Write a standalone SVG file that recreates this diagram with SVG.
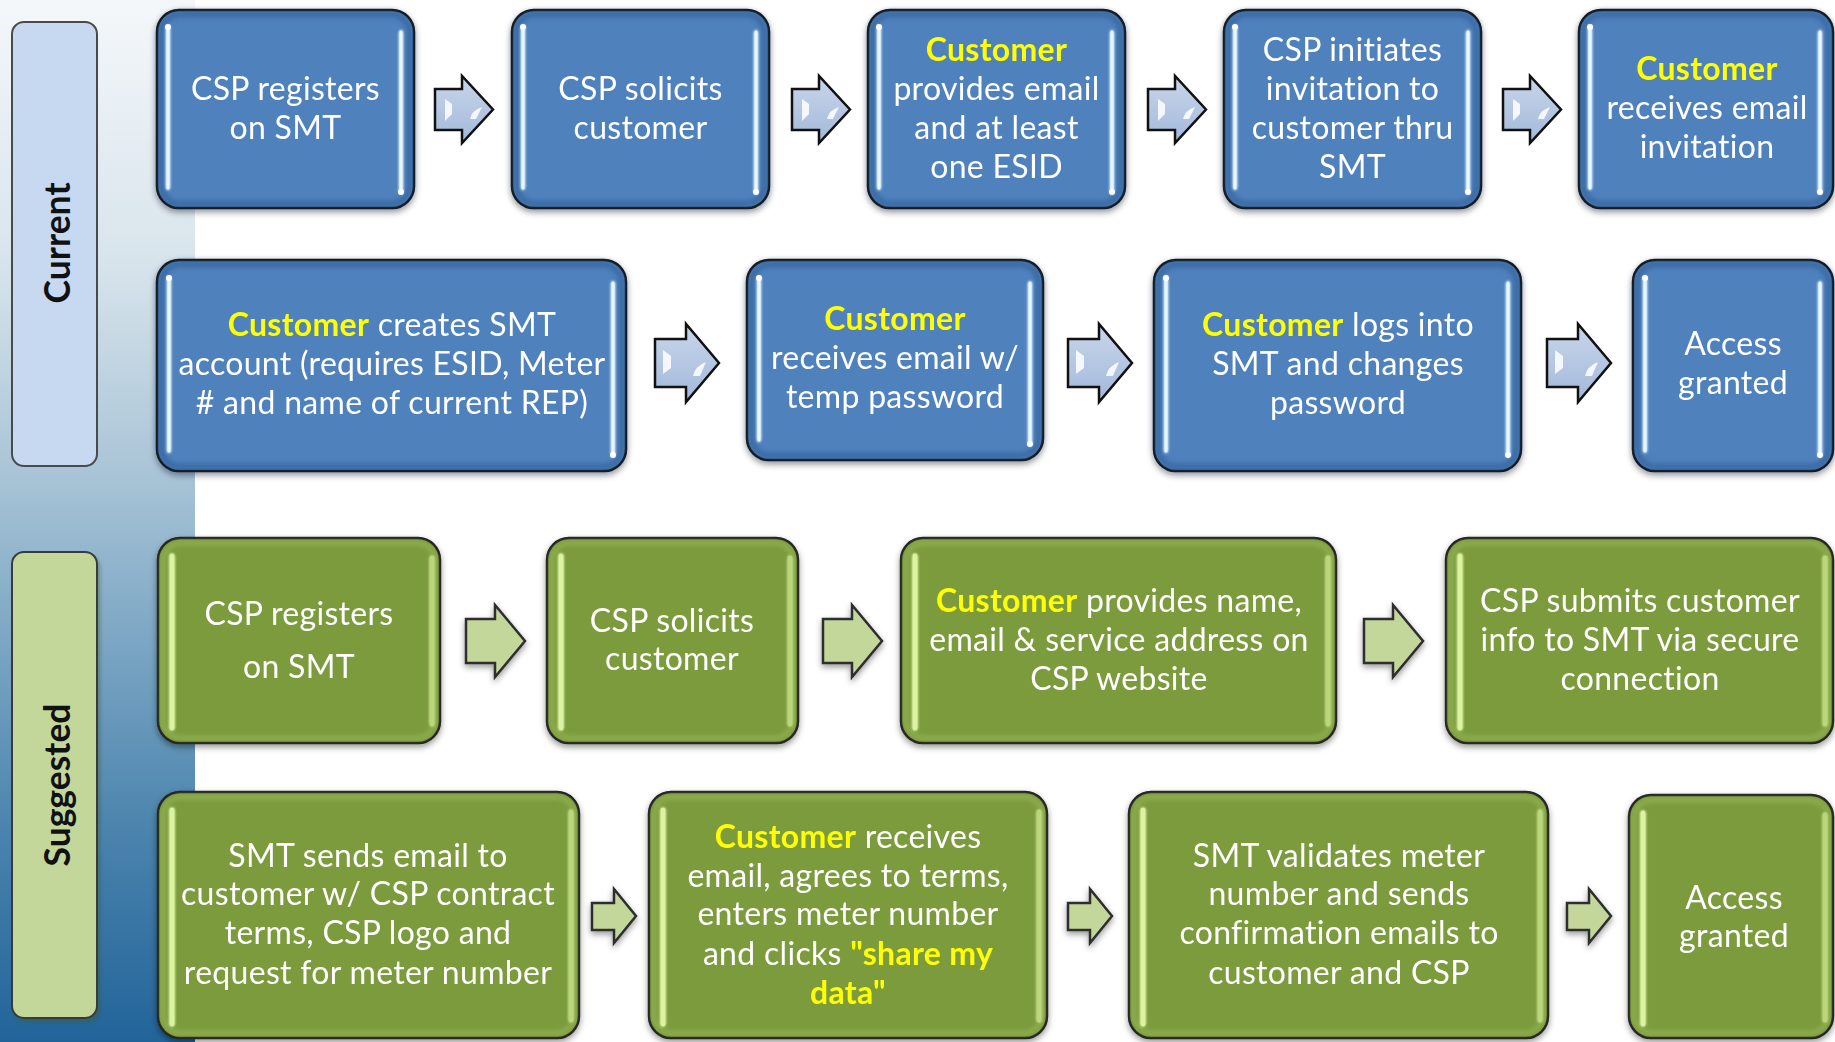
<svg xmlns="http://www.w3.org/2000/svg" xmlns:xlink="http://www.w3.org/1999/xlink" width="1835" height="1042" viewBox="0 0 1835 1042">
  <defs>
    <linearGradient id="panelGrad" x1="0" y1="0" x2="0" y2="1">
      <stop offset="0" stop-color="#f4f7fa"/>
      <stop offset="0.25" stop-color="#d8e4ec"/>
      <stop offset="0.45" stop-color="#aac5d7"/>
      <stop offset="0.6" stop-color="#80a9c6"/>
      <stop offset="0.8" stop-color="#4a83ad"/>
      <stop offset="1" stop-color="#22649a"/>
    </linearGradient>
    <linearGradient id="blueArrowFill" x1="0" y1="0" x2="0" y2="1">
      <stop offset="0" stop-color="#c9d6eb"/>
      <stop offset="1" stop-color="#a2b8da"/>
    </linearGradient>
    <filter id="shadow" x="-10%" y="-10%" width="120%" height="125%">
      <feDropShadow dx="0" dy="3" stdDeviation="3" flood-color="#000" flood-opacity="0.4"/>
    </filter>
    <filter id="soft" x="-10%" y="-10%" width="120%" height="120%">
      <feGaussianBlur stdDeviation="2"/>
    </filter>
    <!-- user-space region so zero-width vertical strokes still get a glow -->
    <filter id="glow" filterUnits="userSpaceOnUse" x="0" y="0" width="1835" height="1042">
      <feGaussianBlur in="SourceGraphic" stdDeviation="1.8" result="b"/>
      <feMerge><feMergeNode in="b"/><feMergeNode in="b"/><feMergeNode in="SourceGraphic"/></feMerge>
    </filter>
    <!-- arrow outlines, local coordinates -->
    <path id="arrowBlueS" d="M0,13 H27 V0 L58,33.5 L27,67 V54 H0 Z"/>
    <path id="arrowBlueL" d="M0,15 H31 V0 L64,39 L31,78 V63 H0 Z"/>
    <path id="arrowGreenL" d="M0,14 H29 V0 L59,36 L29,72 V58 H0 Z"/>
    <path id="arrowGreenS" d="M0,14 H22 V0 L44,27 L22,54 V41 H0 Z"/>
  </defs>
  <style>
    .box-blue { fill: #4f81bd; stroke: #111; stroke-width: 2.5; }
    .bevel-blue { fill: none; stroke: #2d5b92; stroke-width: 7; opacity: 0.55; filter: url(#soft); }
    .hl-blue { stroke: #e6f7ff; stroke-width: 3; stroke-linecap: round; filter: url(#glow); }
    .dot-blue { fill: #ffffff; }
    .box-green { fill: #7b9b3e; stroke: #222; stroke-width: 2.5; }
    .bevel-green { fill: none; stroke: #9cbc5a; stroke-width: 5; opacity: 0.55; filter: url(#soft); }
    .hl-green { stroke: #dcf4a2; stroke-width: 4.5; stroke-linecap: round; filter: url(#glow); }
    .hr-green { stroke: #c6df86; stroke-width: 4.5; stroke-linecap: round; opacity: 0.85; filter: url(#glow); }
    .t { font-family: Lato, "Liberation Sans", sans-serif; font-size: 32px; letter-spacing: 0.3px; fill: #ffffff; text-anchor: middle; }
    .y { fill: #ffff00; font-weight: 700; }
    .lab { font-family: Lato, "Liberation Sans", sans-serif; font-size: 35.5px; font-weight: 700; fill: #111; text-anchor: middle; }
    .lane-cur { fill: #c6d9f1; stroke: #4a4a4a; stroke-width: 2; }
    .lane-sug { fill: #c4d79b; stroke: #3a3a3a; stroke-width: 2; }
    .arr-blue { fill: url(#blueArrowFill); stroke: #111; stroke-width: 2.5; stroke-linejoin: miter; }
    .arr-blue-hi { fill: #ffffff; opacity: 0.85; }
    .arr-green { fill: #c4d79b; stroke: #2e2e2e; stroke-width: 2.5; stroke-linejoin: miter; }
  </style>

  <!-- left band -->
  <rect x="0" y="0" width="195" height="1042" fill="url(#panelGrad)"/>

  <!-- lane labels -->
  <g id="lane-current">
    <rect class="lane-cur" x="12" y="22" width="85" height="444" rx="12"/>
    <text class="lab" transform="translate(58,243) rotate(-90)" y="12">Current</text>
  </g>
  <g id="lane-suggested">
    <rect x="15" y="556" width="85" height="466" rx="12" fill="#3c5a2a" opacity="0.45" filter="url(#soft)"/>
    <rect class="lane-sug" x="12" y="552" width="85" height="466" rx="12"/>
    <text class="lab" transform="translate(58,785) rotate(-90)" y="12">Suggested</text>
  </g>

  <!-- current process: row 1 -->
  <g id="cur-1" filter="url(#shadow)">
    <rect class="box-blue" x="157" y="10" width="257" height="198" rx="22"/>
    <rect class="bevel-blue" x="161" y="14" width="249" height="190" rx="19"/>
    <line class="hl-blue" x1="168" y1="27" x2="168" y2="188"/>
    <line class="hl-blue" x1="401" y1="32" x2="401" y2="192"/>
    <circle class="dot-blue" cx="168" cy="27" r="3"/><circle class="dot-blue" cx="401" cy="192" r="3"/>
    <text class="t"><tspan x="285.5" y="100">CSP registers</tspan><tspan x="285.5" y="139">on SMT</tspan></text>
  </g>
  <g id="cur-2" filter="url(#shadow)">
    <rect class="box-blue" x="512" y="10" width="257" height="198" rx="22"/>
    <rect class="bevel-blue" x="516" y="14" width="249" height="190" rx="19"/>
    <line class="hl-blue" x1="523" y1="27" x2="523" y2="188"/>
    <line class="hl-blue" x1="756" y1="32" x2="756" y2="192"/>
    <circle class="dot-blue" cx="523" cy="27" r="3"/><circle class="dot-blue" cx="756" cy="192" r="3"/>
    <text class="t"><tspan x="640.5" y="100">CSP solicits</tspan><tspan x="640.5" y="139">customer</tspan></text>
  </g>
  <g id="cur-3" filter="url(#shadow)">
    <rect class="box-blue" x="868" y="10" width="257" height="198" rx="22"/>
    <rect class="bevel-blue" x="872" y="14" width="249" height="190" rx="19"/>
    <line class="hl-blue" x1="879" y1="27" x2="879" y2="188"/>
    <line class="hl-blue" x1="1112" y1="32" x2="1112" y2="192"/>
    <circle class="dot-blue" cx="879" cy="27" r="3"/><circle class="dot-blue" cx="1112" cy="192" r="3"/>
    <text class="t"><tspan class="y" x="996.5" y="61">Customer</tspan><tspan x="996.5" y="100">provides email</tspan><tspan x="996.5" y="139">and at least</tspan><tspan x="996.5" y="178">one ESID</tspan></text>
  </g>
  <g id="cur-4" filter="url(#shadow)">
    <rect class="box-blue" x="1224" y="10" width="257" height="198" rx="22"/>
    <rect class="bevel-blue" x="1228" y="14" width="249" height="190" rx="19"/>
    <line class="hl-blue" x1="1235" y1="27" x2="1235" y2="188"/>
    <line class="hl-blue" x1="1468" y1="32" x2="1468" y2="192"/>
    <circle class="dot-blue" cx="1235" cy="27" r="3"/><circle class="dot-blue" cx="1468" cy="192" r="3"/>
    <text class="t"><tspan x="1352.5" y="61">CSP initiates</tspan><tspan x="1352.5" y="100">invitation to</tspan><tspan x="1352.5" y="139">customer thru</tspan><tspan x="1352.5" y="178">SMT</tspan></text>
  </g>
  <g id="cur-5" filter="url(#shadow)">
    <rect class="box-blue" x="1579" y="10" width="254" height="198" rx="22"/>
    <rect class="bevel-blue" x="1583" y="14" width="246" height="190" rx="19"/>
    <line class="hl-blue" x1="1590" y1="27" x2="1590" y2="188"/>
    <line class="hl-blue" x1="1820" y1="32" x2="1820" y2="192"/>
    <circle class="dot-blue" cx="1590" cy="27" r="3"/><circle class="dot-blue" cx="1820" cy="192" r="3"/>
    <text class="t"><tspan class="y" x="1707" y="80">Customer</tspan><tspan x="1707" y="119">receives email</tspan><tspan x="1707" y="158">invitation</tspan></text>
  </g>

  <!-- current process: row 2 -->
  <g id="cur-6" filter="url(#shadow)">
    <rect class="box-blue" x="157" y="260" width="469" height="211" rx="22"/>
    <rect class="bevel-blue" x="161" y="264" width="461" height="203" rx="19"/>
    <line class="hl-blue" x1="169" y1="278" x2="169" y2="451"/>
    <line class="hl-blue" x1="613" y1="283" x2="613" y2="455"/>
    <circle class="dot-blue" cx="169" cy="278" r="3"/><circle class="dot-blue" cx="613" cy="455" r="3"/>
    <text class="t"><tspan x="392" y="336"><tspan class="y">Customer</tspan> creates SMT</tspan><tspan x="392" y="375">account (requires ESID, Meter</tspan><tspan x="392" y="414"># and name of current REP)</tspan></text>
  </g>
  <g id="cur-7" filter="url(#shadow)">
    <rect class="box-blue" x="747" y="260" width="296" height="200" rx="22"/>
    <rect class="bevel-blue" x="751" y="264" width="288" height="192" rx="19"/>
    <line class="hl-blue" x1="759" y1="278" x2="759" y2="440"/>
    <line class="hl-blue" x1="1030" y1="283" x2="1030" y2="444"/>
    <circle class="dot-blue" cx="759" cy="278" r="3"/><circle class="dot-blue" cx="1030" cy="444" r="3"/>
    <text class="t"><tspan class="y" x="895" y="330">Customer</tspan><tspan x="895" y="369">receives email w/</tspan><tspan x="895" y="408">temp password</tspan></text>
  </g>
  <g id="cur-8" filter="url(#shadow)">
    <rect class="box-blue" x="1154" y="260" width="367" height="211" rx="22"/>
    <rect class="bevel-blue" x="1158" y="264" width="359" height="203" rx="19"/>
    <line class="hl-blue" x1="1166" y1="278" x2="1166" y2="451"/>
    <line class="hl-blue" x1="1508" y1="283" x2="1508" y2="455"/>
    <circle class="dot-blue" cx="1166" cy="278" r="3"/><circle class="dot-blue" cx="1508" cy="455" r="3"/>
    <text class="t"><tspan x="1338" y="336"><tspan class="y">Customer</tspan> logs into</tspan><tspan x="1338" y="375">SMT and changes</tspan><tspan x="1338" y="414">password</tspan></text>
  </g>
  <g id="cur-9" filter="url(#shadow)">
    <rect class="box-blue" x="1633" y="260" width="200" height="211" rx="22"/>
    <rect class="bevel-blue" x="1637" y="264" width="192" height="203" rx="19"/>
    <line class="hl-blue" x1="1645" y1="278" x2="1645" y2="451"/>
    <line class="hl-blue" x1="1820" y1="283" x2="1820" y2="455"/>
    <circle class="dot-blue" cx="1645" cy="278" r="3"/><circle class="dot-blue" cx="1820" cy="455" r="3"/>
    <text class="t"><tspan x="1733" y="355">Access</tspan><tspan x="1733" y="394">granted</tspan></text>
  </g>

  <!-- suggested process: row 3 -->
  <g id="sug-1" filter="url(#shadow)">
    <rect class="box-green" x="158" y="538" width="282" height="205" rx="22"/>
    <rect class="bevel-green" x="163" y="543" width="272" height="195" rx="18"/>
    <line class="hl-green" x1="172" y1="556" x2="172" y2="728"/>
    <line class="hr-green" x1="432" y1="558" x2="432" y2="724"/>
    <text class="t"><tspan x="299" y="625">CSP registers</tspan><tspan x="299" y="678">on SMT</tspan></text>
  </g>
  <g id="sug-2" filter="url(#shadow)">
    <rect class="box-green" x="547" y="538" width="251" height="205" rx="22"/>
    <rect class="bevel-green" x="552" y="543" width="241" height="195" rx="18"/>
    <line class="hl-green" x1="561" y1="556" x2="561" y2="728"/>
    <line class="hr-green" x1="790" y1="558" x2="790" y2="724"/>
    <text class="t"><tspan x="672" y="632">CSP solicits</tspan><tspan x="672" y="670">customer</tspan></text>
  </g>
  <g id="sug-3" filter="url(#shadow)">
    <rect class="box-green" x="901" y="538" width="435" height="205" rx="22"/>
    <rect class="bevel-green" x="906" y="543" width="425" height="195" rx="18"/>
    <line class="hl-green" x1="915" y1="556" x2="915" y2="728"/>
    <line class="hr-green" x1="1328" y1="558" x2="1328" y2="724"/>
    <text class="t"><tspan x="1119" y="612"><tspan class="y">Customer</tspan> provides name,</tspan><tspan x="1119" y="651">email &amp; service address on</tspan><tspan x="1119" y="690">CSP website</tspan></text>
  </g>
  <g id="sug-4" filter="url(#shadow)">
    <rect class="box-green" x="1446" y="538" width="387" height="205" rx="22"/>
    <rect class="bevel-green" x="1451" y="543" width="377" height="195" rx="18"/>
    <line class="hl-green" x1="1460" y1="556" x2="1460" y2="728"/>
    <line class="hr-green" x1="1825" y1="558" x2="1825" y2="724"/>
    <text class="t"><tspan x="1640" y="612">CSP submits customer</tspan><tspan x="1640" y="651">info to SMT via secure</tspan><tspan x="1640" y="690">connection</tspan></text>
  </g>

  <!-- suggested process: row 4 -->
  <g id="sug-5" filter="url(#shadow)">
    <rect class="box-green" x="158" y="792" width="421" height="246" rx="22"/>
    <rect class="bevel-green" x="163" y="797" width="411" height="236" rx="18"/>
    <line class="hl-green" x1="172" y1="810" x2="172" y2="1024"/>
    <line class="hr-green" x1="571" y1="812" x2="571" y2="1020"/>
    <text class="t"><tspan x="368" y="867">SMT sends email to</tspan><tspan x="368" y="905">customer w/ CSP contract</tspan><tspan x="368" y="944">terms, CSP logo and</tspan><tspan x="368" y="984">request for meter number</tspan></text>
  </g>
  <g id="sug-6" filter="url(#shadow)">
    <rect class="box-green" x="649" y="792" width="398" height="246" rx="22"/>
    <rect class="bevel-green" x="654" y="797" width="388" height="236" rx="18"/>
    <line class="hl-green" x1="663" y1="810" x2="663" y2="1024"/>
    <line class="hr-green" x1="1039" y1="812" x2="1039" y2="1020"/>
    <text class="t"><tspan x="848" y="848"><tspan class="y">Customer</tspan> receives</tspan><tspan x="848" y="887">email, agrees to terms,</tspan><tspan x="848" y="925">enters meter number</tspan><tspan x="848" y="965">and clicks <tspan class="y">"share my</tspan></tspan><tspan class="y" x="848" y="1004">data"</tspan></text>
  </g>
  <g id="sug-7" filter="url(#shadow)">
    <rect class="box-green" x="1129" y="792" width="419" height="246" rx="22"/>
    <rect class="bevel-green" x="1134" y="797" width="409" height="236" rx="18"/>
    <line class="hl-green" x1="1143" y1="810" x2="1143" y2="1024"/>
    <line class="hr-green" x1="1540" y1="812" x2="1540" y2="1020"/>
    <text class="t"><tspan x="1339" y="867">SMT validates meter</tspan><tspan x="1339" y="905">number and sends</tspan><tspan x="1339" y="944">confirmation emails to</tspan><tspan x="1339" y="984">customer and CSP</tspan></text>
  </g>
  <g id="sug-8" filter="url(#shadow)">
    <rect class="box-green" x="1629" y="795" width="204" height="243" rx="22"/>
    <rect class="bevel-green" x="1634" y="800" width="194" height="233" rx="18"/>
    <line class="hl-green" x1="1643" y1="813" x2="1643" y2="1024"/>
    <line class="hr-green" x1="1825" y1="815" x2="1825" y2="1020"/>
    <text class="t"><tspan x="1734" y="909">Access</tspan><tspan x="1734" y="947">granted</tspan></text>
  </g>

  <!-- connectors -->
  <g id="connectors">
    <g transform="translate(435,76)"><use xlink:href="#arrowBlueS" class="arr-blue"/><path class="arr-blue-hi" d="M10,23 L17,28 L17,38 L10,45 Z"/><path class="arr-blue-hi" d="M35,43 Q37,34 47,31 L41,43 Z"/></g>
    <g transform="translate(792,76)"><use xlink:href="#arrowBlueS" class="arr-blue"/><path class="arr-blue-hi" d="M10,23 L17,28 L17,38 L10,45 Z"/><path class="arr-blue-hi" d="M35,43 Q37,34 47,31 L41,43 Z"/></g>
    <g transform="translate(1148,76)"><use xlink:href="#arrowBlueS" class="arr-blue"/><path class="arr-blue-hi" d="M10,23 L17,28 L17,38 L10,45 Z"/><path class="arr-blue-hi" d="M35,43 Q37,34 47,31 L41,43 Z"/></g>
    <g transform="translate(1503,76)"><use xlink:href="#arrowBlueS" class="arr-blue"/><path class="arr-blue-hi" d="M10,23 L17,28 L17,38 L10,45 Z"/><path class="arr-blue-hi" d="M35,43 Q37,34 47,31 L41,43 Z"/></g>

    <g transform="translate(655,324)"><use xlink:href="#arrowBlueL" class="arr-blue"/><path class="arr-blue-hi" d="M8,26 L16,32 L16,44 L8,50 Z"/><path class="arr-blue-hi" d="M38,52 Q40,42 51,38 L45,52 Z"/></g>
    <g transform="translate(1068,324)"><use xlink:href="#arrowBlueL" class="arr-blue"/><path class="arr-blue-hi" d="M8,26 L16,32 L16,44 L8,50 Z"/><path class="arr-blue-hi" d="M38,52 Q40,42 51,38 L45,52 Z"/></g>
    <g transform="translate(1547,324)"><use xlink:href="#arrowBlueL" class="arr-blue"/><path class="arr-blue-hi" d="M8,26 L16,32 L16,44 L8,50 Z"/><path class="arr-blue-hi" d="M38,52 Q40,42 51,38 L45,52 Z"/></g>

    <g filter="url(#shadow)">
      <use xlink:href="#arrowGreenL" class="arr-green" transform="translate(466,605)"/>
      <use xlink:href="#arrowGreenL" class="arr-green" transform="translate(823,605)"/>
      <use xlink:href="#arrowGreenL" class="arr-green" transform="translate(1364,605)"/>
      <use xlink:href="#arrowGreenS" class="arr-green" transform="translate(592,889)"/>
      <use xlink:href="#arrowGreenS" class="arr-green" transform="translate(1068,889)"/>
      <use xlink:href="#arrowGreenS" class="arr-green" transform="translate(1567,889)"/>
    </g>
  </g>
</svg>
